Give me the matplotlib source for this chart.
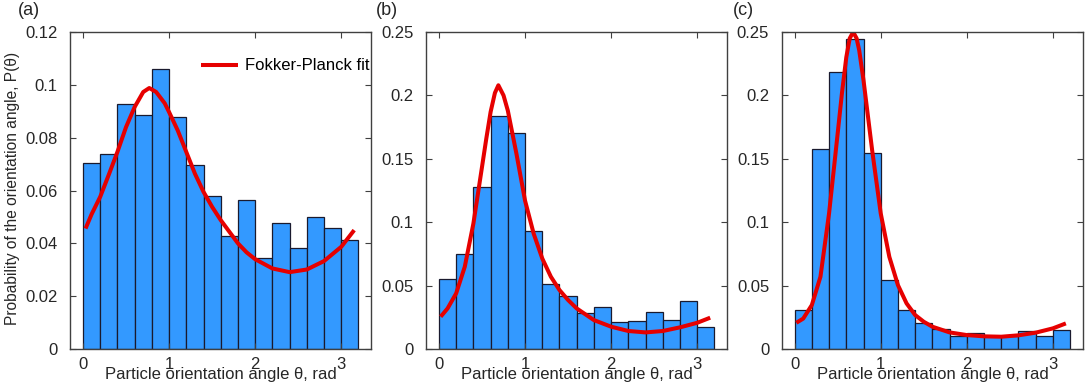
import numpy as np
import matplotlib
matplotlib.use("Agg")
import matplotlib.pyplot as plt

plt.rcParams['font.family'] = ['Liberation Sans', 'DejaVu Sans']

# histogram bins: 16 bins of width 0.2 rad
bin_edges = [0.0, 0.2, 0.4, 0.6, 0.8, 1.0, 1.2, 1.4, 1.6, 1.8, 2.0, 2.2, 2.4, 2.6, 2.8, 3.0, 3.2]

hist_a = [0.0705, 0.0737, 0.0927, 0.0887, 0.1060, 0.0879, 0.0698, 0.0579,
          0.0429, 0.0563, 0.0343, 0.0476, 0.0382, 0.0500, 0.0460, 0.0413]
hist_b = [0.0549, 0.0746, 0.1276, 0.1838, 0.1704, 0.0930, 0.0515, 0.0418,
          0.0281, 0.0328, 0.0210, 0.0218, 0.0289, 0.0226, 0.0376, 0.0171]
hist_c = [0.0305, 0.1578, 0.2188, 0.2447, 0.1544, 0.0541, 0.0305, 0.0205,
          0.0155, 0.0100, 0.0123, 0.0102, 0.0100, 0.0139, 0.0100, 0.0147]

# Fokker-Planck fit curves
fit_a_x = [0.03, 0.1, 0.2, 0.3, 0.4, 0.5, 0.6, 0.7, 0.77, 0.85, 0.95, 1.0, 1.1, 1.2, 1.3,
           1.4, 1.5, 1.6, 1.7, 1.8, 1.9, 2.0, 2.2, 2.4, 2.6, 2.8, 3.0, 3.15]
fit_a_y = [0.0456, 0.051, 0.0576, 0.066, 0.0746, 0.084, 0.0916, 0.0973, 0.0988, 0.0973, 0.093,
           0.0897, 0.0828, 0.0746, 0.0664, 0.0595, 0.0538, 0.0488, 0.0444, 0.0400, 0.0366,
           0.0340, 0.0305, 0.0291, 0.0301, 0.0333, 0.0387, 0.0450]

fit_b_x = [0.02, 0.1, 0.2, 0.3, 0.4, 0.5, 0.55, 0.6, 0.65, 0.69, 0.75, 0.8, 0.9, 1.0, 1.1,
           1.2, 1.3, 1.4, 1.5, 1.6, 1.8, 2.0, 2.2, 2.4, 2.6, 2.8, 3.0, 3.15]
fit_b_y = [0.0255, 0.032, 0.0439, 0.0649, 0.099, 0.1436, 0.166, 0.187, 0.202, 0.208, 0.200,
           0.188, 0.154, 0.117, 0.091, 0.0714, 0.057, 0.0465, 0.0386, 0.032, 0.0228,
           0.0176, 0.0142, 0.0131, 0.0142, 0.0171, 0.0207, 0.0247]

fit_c_x = [0.02, 0.1, 0.2, 0.3, 0.4, 0.5, 0.55, 0.6, 0.64, 0.68, 0.72, 0.75, 0.8, 0.9, 1.0,
           1.1, 1.2, 1.3, 1.4, 1.5, 1.6, 1.8, 2.0, 2.2, 2.4, 2.6, 2.8, 3.0, 3.15]
fit_c_y = [0.0207, 0.024, 0.0347, 0.057, 0.107, 0.170, 0.202, 0.230, 0.245, 0.250, 0.245,
           0.2356, 0.212, 0.157, 0.107, 0.0727, 0.0504, 0.036, 0.0268, 0.0215, 0.0176,
           0.0131, 0.0110, 0.0100, 0.0097, 0.0108, 0.0129, 0.0163, 0.0202]

panels = [
    ("(a)", hist_a, fit_a_x, fit_a_y, 0.12, [0, 0.02, 0.04, 0.06, 0.08, 0.1, 0.12],
     ["0", "0.02", "0.04", "0.06", "0.08", "0.1", "0.12"]),
    ("(b)", hist_b, fit_b_x, fit_b_y, 0.25, [0, 0.05, 0.1, 0.15, 0.2, 0.25],
     ["0", "0.05", "0.1", "0.15", "0.2", "0.25"]),
    ("(c)", hist_c, fit_c_x, fit_c_y, 0.25, [0, 0.05, 0.1, 0.15, 0.2, 0.25],
     ["0", "0.05", "0.1", "0.15", "0.2", "0.25"]),
]

lefts = [0.0645, 0.3923, 0.7198]
tag_x = [-0.172, -0.166, -0.161]
width = 0.2775
bottom = 0.0911
height = 0.8255
spine_col = '#404040'
text_col = '#262626'

fig = plt.figure(figsize=(10.86, 3.84), dpi=100)

for i, (tag, hist, fx, fy, ymax, yt, ytl) in enumerate(panels):
    ax = fig.add_axes([lefts[i], bottom, width, height])
    edges = np.array(bin_edges)
    ax.bar(edges[:-1], hist, width=np.diff(edges), align='edge',
           color='#3399ff', edgecolor='#1a1a2e', linewidth=0.9)
    line, = ax.plot(fx, fy, color='#e60000', linewidth=2.9,
                    solid_joinstyle='round', solid_capstyle='butt')
    ax.set_xlim(-0.15, 3.35)
    ax.set_ylim(0, ymax)
    ax.set_xticks([0, 1, 2, 3])
    ax.set_xticklabels(["0", "1", "2", "3"])
    ax.set_yticks(yt)
    ax.set_yticklabels(ytl)
    ax.tick_params(direction='in', top=True, right=True, length=4, width=0.8,
                   colors=spine_col, labelcolor=text_col, labelsize=12)
    ax.tick_params(axis='y', pad=9)
    ax.tick_params(axis='x', pad=5.5)
    for s in ax.spines.values():
        s.set_color(spine_col)
        s.set_linewidth(1.0)
    ax.set_xlabel("Particle orientation angle θ, rad", fontsize=12, color=text_col)
    ax.xaxis.set_label_coords(0.5, -0.058)
    ax.text(tag_x[i], 1.095, tag, transform=ax.transAxes,
            fontsize=13, color=text_col, ha='left', va='top')
    if i == 0:
        ax.set_ylabel("Probability of the orientation angle, P(θ)", fontsize=11.2,
                      color=text_col)
        ax.yaxis.set_label_coords(-0.167, 0.508)
        ax.legend([line], ["Fokker-Planck fit"], loc='center right', frameon=False,
                  fontsize=12, handlelength=2.2, handletextpad=0.4,
                  borderaxespad=0, borderpad=0, bbox_to_anchor=(0.993, 0.893))

fig.savefig("out.png", dpi=100)
